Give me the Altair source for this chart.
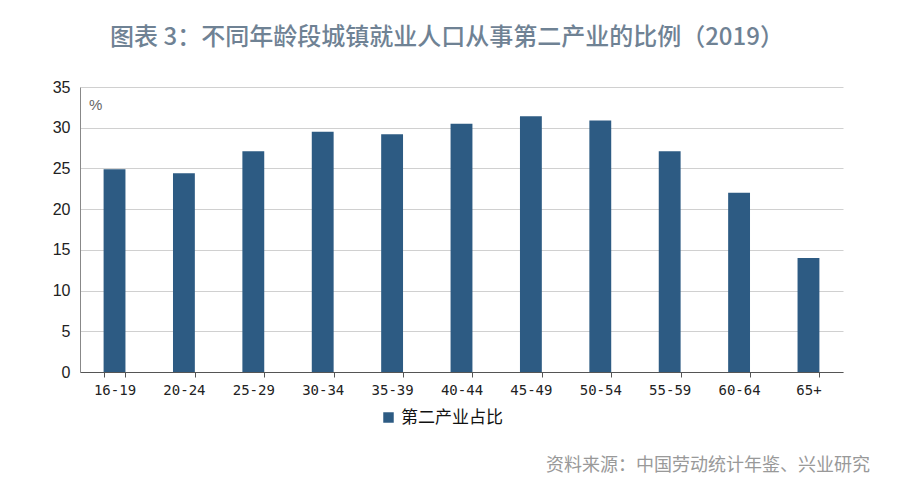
import altair as alt
import pandas as pd

categories = ["16-19", "20-24", "25-29", "30-34", "35-39", "40-44", "45-49", "50-54", "55-59", "60-64", "65+"]
values = [24.9, 24.4, 27.1, 29.5, 29.2, 30.5, 31.4, 30.9, 27.1, 22.0, 14.0]
series_name = "第二产业占比"
title_text = "图表 3：不同年龄段城镇就业人口从事第二产业的比例（2019）"
source_text = "资料来源：中国劳动统计年鉴、兴业研究"
unit_text = "%"

df = pd.DataFrame({"age": categories, "value": values, "series": [series_name] * len(categories)})
one = pd.DataFrame({"k": [0]})

W, H = 763, 285

bars = alt.Chart(df).mark_bar(color="#2d5b83").encode(
    x=alt.X("age:N", sort=categories, title=None,
            scale=alt.Scale(paddingInner=0.685, paddingOuter=0.34),
            axis=alt.Axis(labelAngle=0, labelFont="DejaVu Sans Mono", labelFontSize=14,
                          labelColor="#222", domainColor="#555", tickColor="#555",
                          tickBand="extent", tickSize=5, labelPadding=6, grid=False)),
    y=alt.Y("value:Q", title=None,
            scale=alt.Scale(domain=[0, 35]),
            axis=alt.Axis(values=[0, 5, 10, 15, 20, 25, 30, 35], labelFont="Liberation Sans",
                          labelFontSize=16, labelColor="#222", domainColor="#888",
                          gridColor="#d0d0d0", tickSize=0, labelPadding=10)),
    color=alt.Color("series:N", scale=alt.Scale(range=["#2d5b83"]),
                    legend=alt.Legend(title=None, orient="none", legendX=300, legendY=322,
                                      symbolType="square", symbolSize=110,
                                      labelFont="Noto Sans CJK SC", labelFontSize=17,
                                      labelColor="#111")),
)

title = alt.Chart(one).mark_text(
    text=title_text, font="Noto Sans CJK SC", fontSize=24, fontWeight=500,
    color="#6f8294", align="center", baseline="middle"
).encode(x=alt.value(367), y=alt.value(-49))

unit = alt.Chart(one).mark_text(
    text=unit_text, font="Liberation Sans", fontSize=15, color="#666",
    align="left", baseline="middle"
).encode(x=alt.value(9), y=alt.value(18))

source = alt.Chart(one).mark_text(
    text=source_text, font="Noto Sans CJK SC", fontSize=18, color="#999",
    align="right", baseline="middle"
).encode(x=alt.value(790), y=alt.value(379))

chart = alt.layer(bars, title, unit, source).properties(
    width=W, height=H,
    background="white",
    autosize=alt.AutoSizeParams(type="none"),
    padding={"left": 72, "top": 79, "right": 49, "bottom": 120},
).configure_view(stroke="transparent", strokeWidth=0)

chart.save("out.html", embed_options={"renderer": "svg", "actions": False})
